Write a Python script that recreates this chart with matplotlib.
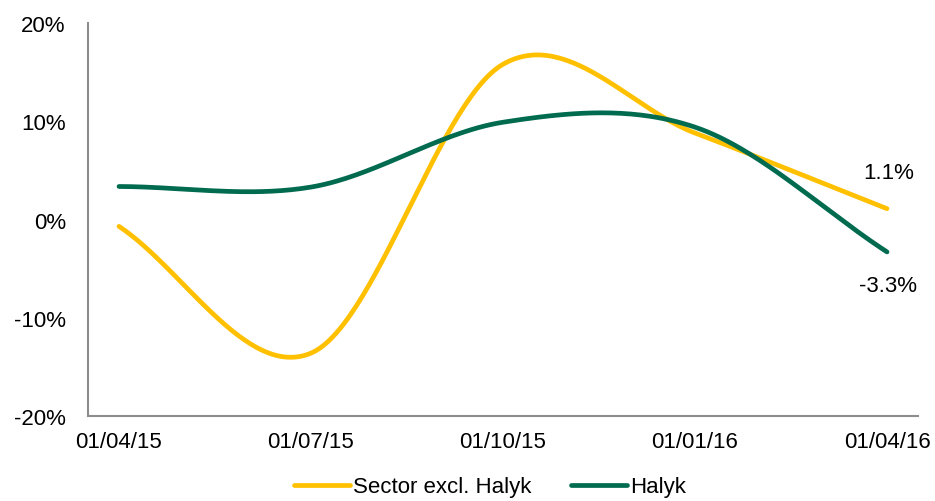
import matplotlib
matplotlib.use("Agg")
import matplotlib.pyplot as plt
import numpy as np

plt.rcParams['font.family'] = ['Liberation Sans', 'DejaVu Sans']

# quarterly points (values in %)
dates = ['01/04/15', '01/07/15', '01/10/15', '01/01/16', '01/04/16']
sector = [-0.7, -13.6, 15.8, 8.8, 1.1]
halyk = [3.36, 3.3, 9.9, 9.4, -3.3]


def smooth(y, n=60):
    # Catmull-Rom spline through the points, like Excel's smoothed line
    y = np.asarray(y, dtype=float)
    p = np.concatenate([[2 * y[0] - y[1]], y, [2 * y[-1] - y[-2]]])
    xs, ys = [], []
    for i in range(1, len(p) - 2):
        t = np.linspace(0, 1, n, endpoint=False)
        p0, p1, p2, p3 = p[i - 1], p[i], p[i + 1], p[i + 2]
        seg = 0.5 * ((2 * p1) + (-p0 + p2) * t + (2 * p0 - 5 * p1 + 4 * p2 - p3) * t ** 2
                     + (-p0 + 3 * p1 - 3 * p2 + p3) * t ** 3)
        xs.append(i - 1 + t)
        ys.append(seg)
    xs.append([len(y) - 1])
    ys.append([y[-1]])
    return np.concatenate(xs), np.concatenate(ys)


fig = plt.figure(figsize=(9.35, 5.02), dpi=100)
ax = fig.add_axes([88 / 935, 1 - 417 / 502, 830 / 935, 393 / 502])

x = np.arange(len(dates))
sx, sy = smooth(sector)
hx, hy = smooth(halyk)
ax.plot(sx, sy, color='#FFC000', lw=3.4, solid_capstyle='round', label='Sector excl. Halyk')
ax.plot(hx, hy, color='#006B4F', lw=3.4, solid_capstyle='round', label='Halyk')

ax.set_xlim(-31 / 192, len(dates) - 1 + 31 / 192)
ax.set_ylim(-20, 20)
ax.set_yticks([-20, -10, 0, 10, 20])
ax.set_yticklabels(['-20%', '-10%', '0%', '10%', '20%'])
ax.set_xticks(x)
ax.set_xticklabels(dates)
ax.tick_params(length=0, labelsize=16, colors='black')
ax.tick_params(axis='y', pad=16)
ax.tick_params(axis='x', pad=11)

for s in ['top', 'right']:
    ax.spines[s].set_visible(False)
for s in ['left', 'bottom']:
    ax.spines[s].set_color('#8c8c8c')
    ax.spines[s].set_linewidth(1.5)

ax.annotate('1.1%', (x[-1], sector[-1]), xytext=(1, 26), textcoords='offset points',
            ha='center', va='center', fontsize=16)
ax.annotate('-3.3%', (x[-1], halyk[-1]), xytext=(1, -24), textcoords='offset points',
            ha='center', va='center', fontsize=16)

fig.legend(loc='center', bbox_to_anchor=(490 / 935, 1 - 488 / 502), ncol=2, frameon=False,
           fontsize=16, handlelength=2.5, handletextpad=0.15, columnspacing=1.8)

fig.savefig('out.png', dpi=100)
